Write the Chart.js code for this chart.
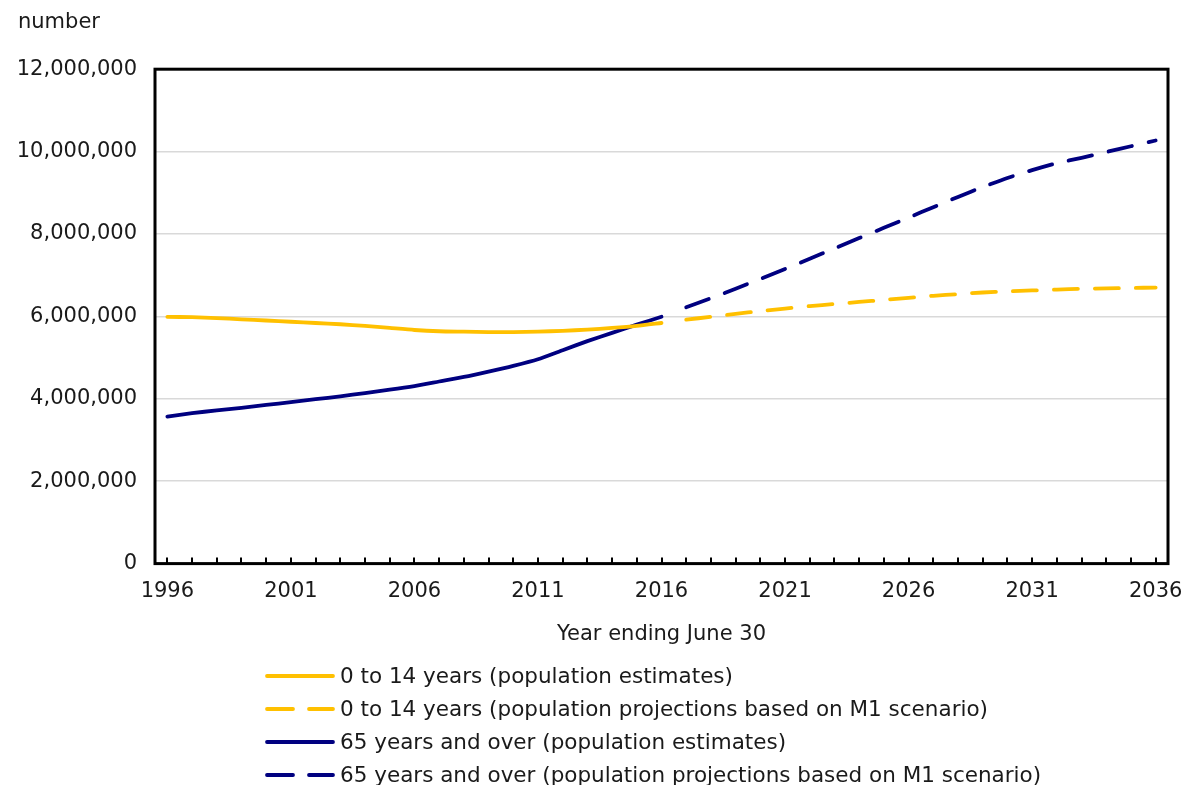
<!DOCTYPE html>
<html>
<head>
<meta charset="utf-8">
<script src="https://cdn.jsdelivr.net/npm/chart.js@4.4.1/dist/chart.umd.min.js"></script>
<style>
  body { margin: 0; background: #fff; }
  #wrap { position: relative; width: 1185px; height: 785px; }
  #legend { position: absolute; left: 265px; top: 659px; font-family: 'DejaVu Sans', Verdana, sans-serif; font-size: 21.5px; color: #1a1a1a; }
  .row { display: flex; align-items: center; height: 33px; }
  .row svg { margin-right: 5px; }
</style>
</head>
<body>
<div id="wrap">
  <canvas id="myChart" width="1185" height="785"></canvas>
  <div id="legend"></div>
</div>
<script>
// Years 1996 to 2036
const years = [];
for (let y = 1996; y <= 2036; y++) years.push(String(y));

// 0 to 14 years, estimates (1996-2016)
const youngEstimates = [5990000, 5980000, 5960000, 5930000, 5900000, 5870000, 5840000, 5810000, 5770000, 5720000,
    5670000, 5640000, 5630000, 5620000, 5620000, 5630000, 5650000, 5680000, 5720000, 5770000, 5840000];
// 0 to 14 years, projections M1 (2017-2036)
const youngProjections = [5920000, 5990000, 6060000, 6130000, 6190000, 6250000, 6300000, 6350000, 6400000, 6450000,
    6500000, 6540000, 6580000, 6610000, 6630000, 6650000, 6670000, 6680000, 6690000, 6700000];
// 65 years and over, estimates (1996-2016)
const oldEstimates = [3570000, 3650000, 3720000, 3780000, 3850000, 3920000, 3990000, 4060000, 4140000, 4220000,
    4310000, 4420000, 4530000, 4660000, 4800000, 4960000, 5180000, 5400000, 5600000, 5800000, 5990000];
// 65 years and over, projections M1 (2017-2036)
const oldProjections = [6220000, 6440000, 6670000, 6910000, 7150000, 7400000, 7650000, 7900000, 8150000, 8400000,
    8650000, 8900000, 9140000, 9360000, 9550000, 9720000, 9850000, 9990000, 10130000, 10270000];

const yellow = 'rgb(255, 192, 0)';
const navy = 'rgb(0, 0, 128)';
const dash = [24, 17];
const font = { family: "'DejaVu Sans', Verdana, sans-serif", size: 21, weight: 'normal' };
const textColor = '#1a1a1a';

// pad estimates with nulls after 2016, projections with nulls before 2017
const estPad = new Array(years.length - youngEstimates.length).fill(null);
const projPad = new Array(years.length - youngProjections.length).fill(null);

function lineSet(label, values, color, dashed) {
    return {
        label: label,
        data: values,
        borderColor: color,
        backgroundColor: color,
        borderWidth: 3.8,
        borderDash: dashed ? dash : [],
        borderCapStyle: 'round',
        tension: 0.2,
        pointRadius: 0,
        spanGaps: false
    };
}

// Frame around the plot area plus small inward ticks on the x axis
const framePlugin = {
    id: 'frame',
    afterDraw(chart) {
        const { ctx, chartArea: a, scales } = chart;
        ctx.save();
        ctx.strokeStyle = '#000';
        ctx.lineWidth = 2;
        const x = scales.x;
        x.ticks.forEach((t, i) => {
            const px = Math.round(x.getPixelForTick(i));
            ctx.beginPath();
            ctx.moveTo(px, a.bottom);
            ctx.lineTo(px, a.bottom - 6);
            ctx.stroke();
        });
        ctx.lineWidth = 3;
        ctx.strokeRect(a.left, a.top, a.right - a.left, a.bottom - a.top);
        ctx.restore();
    }
};

const ctx = document.getElementById('myChart').getContext('2d');
const chart = new Chart(ctx, {
    type: 'line',
    data: {
        labels: years,
        datasets: [
            lineSet('0 to 14 years (population estimates)', youngEstimates.concat(estPad), yellow, false),
            lineSet('0 to 14 years (population projections based on M1 scenario)', projPad.concat(youngProjections), yellow, true),
            lineSet('65 years and over (population estimates)', oldEstimates.concat(estPad), navy, false),
            lineSet('65 years and over (population projections based on M1 scenario)', projPad.concat(oldProjections), navy, true)
        ]
    },
    options: {
        responsive: false,
        animation: false,
        layout: { padding: { left: 18, right: 17, top: 0, bottom: 134 } },
        plugins: {
            legend: { display: false },
            tooltip: { enabled: false },
            title: {
                display: true,
                text: 'number',
                align: 'start',
                color: textColor,
                font: font,
                padding: { top: 10, bottom: 34 }
            }
        },
        scales: {
            x: {
                offset: true,
                afterFit: (scale) => { scale.paddingLeft = 0; scale.paddingRight = 0; },
                grid: { display: false, drawTicks: false },
                border: { display: false },
                ticks: {
                    color: textColor,
                    font: font,
                    padding: 15,
                    autoSkip: false,
                    maxRotation: 0,
                    callback: function (value, index) {
                        return index % 5 === 0 ? years[index] : '';
                    }
                },
                title: {
                    display: true,
                    text: 'Year ending June 30',
                    color: textColor,
                    font: font,
                    padding: { top: 3, bottom: 4 }
                }
            },
            y: {
                min: 0,
                max: 12000000,
                afterFit: (scale) => { scale.width = 137; },
                grid: { color: '#d9d9d9', lineWidth: 1.5, drawTicks: false },
                border: { display: false },
                ticks: {
                    stepSize: 2000000,
                    color: textColor,
                    font: font,
                    padding: 18,
                    callback: (v) => v.toLocaleString('en-US')
                }
            }
        }
    },
    plugins: [framePlugin]
});

// HTML legend built from the chart datasets
const legendEl = document.getElementById('legend');
chart.data.datasets.forEach(ds => {
    const row = document.createElement('div');
    row.className = 'row';
    const dashAttr = ds.borderDash.length ? ' stroke-dasharray="26 16"' : '';
    row.innerHTML = '<svg width="70" height="10"><line x1="2" y1="5" x2="68" y2="5" stroke="' + ds.borderColor +
        '" stroke-width="3.8" stroke-linecap="round"' + dashAttr + '/></svg><span>' + ds.label + '</span>';
    legendEl.appendChild(row);
});
</script>
</body>
</html>
